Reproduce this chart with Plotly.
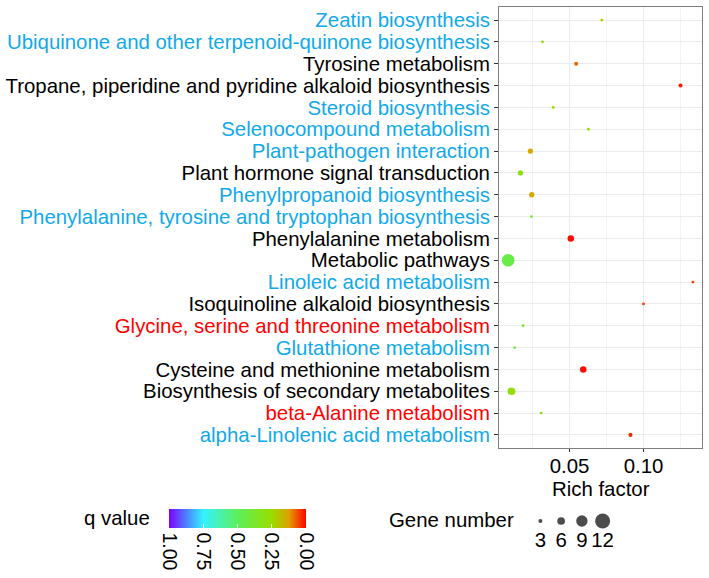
import plotly.graph_objects as go

# ---------------- data ----------------
pathways = [
    "Zeatin biosynthesis",
    "Ubiquinone and other terpenoid-quinone biosynthesis",
    "Tyrosine metabolism",
    "Tropane, piperidine and pyridine alkaloid biosynthesis",
    "Steroid biosynthesis",
    "Selenocompound metabolism",
    "Plant-pathogen interaction",
    "Plant hormone signal transduction",
    "Phenylpropanoid biosynthesis",
    "Phenylalanine, tyrosine and tryptophan biosynthesis",
    "Phenylalanine metabolism",
    "Metabolic pathways",
    "Linoleic acid metabolism",
    "Isoquinoline alkaloid biosynthesis",
    "Glycine, serine and threonine metabolism",
    "Glutathione metabolism",
    "Cysteine and methionine metabolism",
    "Biosynthesis of secondary metabolites",
    "beta-Alanine metabolism",
    "alpha-Linolenic acid metabolism",
]
rich_factor = [0.0718, 0.0318, 0.0545, 0.1250, 0.0390, 0.0628, 0.0236, 0.0169,
               0.0245, 0.0243, 0.0509, 0.0086, 0.1333, 0.1000, 0.0187, 0.0130,
               0.0593, 0.0108, 0.0309, 0.0912]
q_value = [0.22, 0.28, 0.08, 0.02, 0.30, 0.25, 0.14, 0.30,
           0.14, 0.40, 0.01, 0.45, 0.05, 0.05, 0.38, 0.42,
           0.01, 0.27, 0.28, 0.03]
gene_number = [2, 2, 3, 3, 2, 2, 4, 4,
               4, 2, 5, 10, 2, 2, 2, 2,
               5, 6, 2, 3]
label_group = ["blue", "blue", "black", "black", "blue", "blue", "blue", "black",
               "blue", "blue", "black", "black", "blue", "black", "red", "blue",
               "black", "black", "red", "blue"]
size_breaks = [3, 6, 9, 12]
q_ticks = [1.00, 0.75, 0.50, 0.25, 0.00]
x_ticks = [0.05, 0.10]

# ---------------- styling ----------------
W, H = 709, 578
ML, MR, MT, MB = 0, 7, 7, 0
PW, PH = W - ML - MR, H - MT - MB
FONT = "Liberation Sans, Arial, sans-serif"
FS = 20.4
label_colors = {"blue": "#10A9EC", "black": "#000000", "red": "#FF0000"}


def px_x(p):
    return (p - ML) / PW


def px_y(p):
    return (H - MB - p) / PH


def dia(n):
    return 0.4 + 1.22 * n


colorscale = [
    [0.0, "#7F00FF"],
    [0.125, "#4C7FFF"],
    [0.25, "#33F2FF"],
    [0.5, "#5CF05C"],
    [0.75, "#99DD00"],
    [0.875, "#E0A000"],
    [1.0, "#FF0000"],
]

ticktext = [f'<span style="color:{label_colors[g]}">{p}</span>'
            for p, g in zip(pathways, label_group)]

fig = go.Figure()

fig.add_trace(go.Scatter(
    x=rich_factor, y=pathways, mode="markers",
    marker=dict(
        size=[dia(n) for n in gene_number],
        color=[-q for q in q_value],
        cmin=-1, cmax=0,
        colorscale=colorscale,
        line=dict(width=0),
        opacity=1,
        showscale=True,
        colorbar=dict(
            orientation="h",
            lenmode="pixels", len=137,
            thickness=19,
            x=px_x(169), xanchor="left",
            y=px_y(509), yanchor="top",
            xpad=0, ypad=0,
            outlinewidth=0,
            tickvals=[-t for t in q_ticks],
            ticktext=[f"{t:.2f}" for t in q_ticks],
            tickangle=90,
            ticks="inside", ticklen=4, tickcolor="white", tickwidth=1,
            tickfont=dict(family=FONT, size=19.5, color="#000000"),
        ),
    ),
    showlegend=False, hoverinfo="x+y",
))

# gene number legend (on a separate hidden axis)
leg_x = list(range(len(size_breaks)))
fig.add_trace(go.Scatter(
    x=leg_x, y=[0.5] * len(size_breaks), mode="markers",
    marker=dict(size=[dia(n) for n in size_breaks], color="black", line=dict(width=0)),
    xaxis="x2", yaxis="y2", showlegend=False, hoverinfo="skip",
))
fig.add_trace(go.Scatter(
    x=leg_x, y=[-0.5] * len(size_breaks), mode="text",
    text=[str(n) for n in size_breaks],
    textfont=dict(family=FONT, size=FS, color="black"),
    xaxis="x2", yaxis="y2", showlegend=False, hoverinfo="skip",
))

grid = "#EBEBEB"
fig.update_layout(
    width=W, height=H,
    margin=dict(l=ML, r=MR, t=MT, b=MB),
    paper_bgcolor="white", plot_bgcolor="white",
    font=dict(family=FONT, size=FS, color="black"),
    xaxis=dict(
        domain=[px_x(499), 1],
        range=[0.0024, 0.1395],
        tickvals=x_ticks, ticktext=["0.05", "0.10"],
        ticks="outside", ticklen=3, tickcolor="#333333", tickwidth=1,
        ticklabelstandoff=-3,
        tickfont=dict(family=FONT, size=FS, color="black"),
        showgrid=True, gridcolor=grid, gridwidth=1,
        minor=dict(tickvals=[0.025, 0.075, 0.125], showgrid=True,
                   gridcolor="#F3F3F3", gridwidth=1),
        zeroline=False,
        showline=True, mirror=True, linecolor="#7F7F7F", linewidth=1,
        automargin=False,
    ),
    yaxis=dict(
        domain=[px_y(448), 1],
        type="category",
        categoryorder="array", categoryarray=pathways,
        range=[19.6, -0.6],
        tickvals=pathways, ticktext=ticktext,
        ticks="outside", ticklen=4, tickcolor="#333333", tickwidth=1,
        tickfont=dict(family=FONT, size=FS, color="black"),
        showgrid=True, gridcolor=grid, gridwidth=1,
        zeroline=False,
        showline=True, mirror=True, linecolor="#7F7F7F", linewidth=1,
        automargin=False,
    ),
    xaxis2=dict(domain=[px_x(530), px_x(613)], range=[-0.5, 3.5], visible=False,
                anchor="y2", fixedrange=True),
    yaxis2=dict(domain=[px_y(552.5), px_y(510.5)], range=[-1, 1], visible=False,
                anchor="x2", fixedrange=True),
    annotations=[
        dict(text="Rich factor", x=px_x(600.5), y=px_y(489), xref="paper", yref="paper",
             xanchor="center", yanchor="middle", showarrow=False,
             font=dict(family=FONT, size=FS, color="black")),
        dict(text="q value", x=px_x(152), y=px_y(518), xref="paper", yref="paper",
             xanchor="right", yanchor="middle", showarrow=False,
             font=dict(family=FONT, size=FS, color="black")),
        dict(text="Gene number", x=px_x(387), y=px_y(520), xref="paper", yref="paper",
             xanchor="left", yanchor="middle", showarrow=False,
             font=dict(family=FONT, size=FS, color="black")),
    ],
)

# remove the browser's default 8px body margin so the figure sits at (0, 0)
fig.write_html("out.html", config={"displayModeBar": False},
               post_script="document.body.style.margin='0px';")
